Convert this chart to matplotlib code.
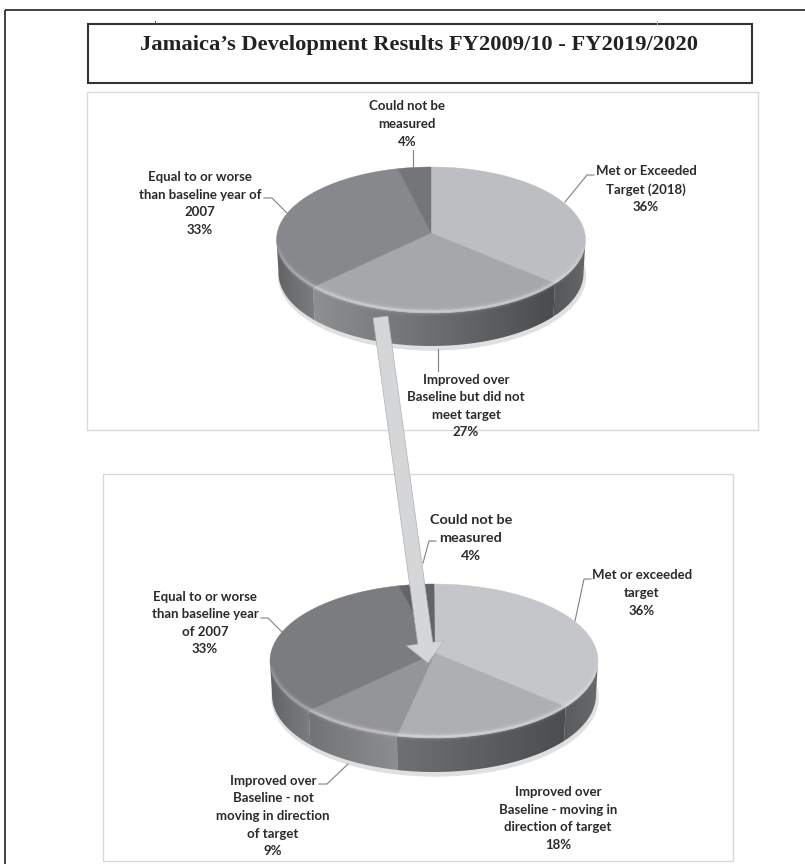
import numpy as np
import matplotlib
matplotlib.use('Agg')
import matplotlib.pyplot as plt
from matplotlib.patches import Polygon, Rectangle, Ellipse, FancyArrow
from matplotlib.colors import LinearSegmentedColormap
from matplotlib.collections import LineCollection

# 数据
top_values = [36, 27, 33, 4]
top_labels = ['Met or Exceeded\nTarget (2018)\n36%',
              'Improved over\nBaseline but did not\nmeet target\n27%',
              'Equal to or worse\nthan baseline year of\n2007\n33%',
              'Could not be\nmeasured\n4%']
top_colors = ['#bdbec1', '#a6a7aa', '#87888b', '#747578']
top_sides = [('#565759', '#656668'), ('#8e8f91', '#4b4c4e'), ('#626365', '#7d7e80'), ('#666666', '#666666')]

bottom_values = [36, 18, 9, 33, 4]
bottom_labels = ['Met or exceeded\ntarget\n36%',
                 'Improved over\nBaseline - moving in\ndirection of target\n18%',
                 'Improved over\nBaseline - not\nmoving in direction\nof target\n9%',
                 'Equal to or worse\nthan baseline year\nof 2007\n33%',
                 'Could not be\nmeasured\n4%']
bottom_colors = ['#c5c6c9', '#aeafb2', '#949598', '#7b7c7f', '#636467']
bottom_sides = [('#5a5b5d', '#68696b'), ('#6f7072', '#4c4d4f'), ('#727375', '#8c8d8f'), ('#626365', '#7c7d7f'), ('#666666', '#666666')]

fig = plt.figure(figsize=(8.05, 8.64), dpi=100)
ax = fig.add_axes([0, 0, 1, 1])
ax.axis('off')


def arc(cx, cy, rx, ry, t0, t1, n=80):
    t = np.radians(np.linspace(t0, t1, n))
    return np.column_stack([cx + rx * np.sin(t), cy - ry * np.cos(t)])


def gradient_fill(patch, c0, c1, x0, x1, y0, y1):
    cmap = LinearSegmentedColormap.from_list('g', [c0, c1])
    im = ax.imshow(np.linspace(0, 1, 64).reshape(1, -1), cmap=cmap, extent=(x0, x1, y1, y0),
                   aspect='auto', zorder=patch.get_zorder(), interpolation='bilinear')
    ax.add_patch(patch)
    im.set_clip_path(patch)


def rim_light(cx, cy, rx, ry, width, strength):
    # 边缘高光，前面最亮，两侧淡出
    pts = arc(cx, cy, rx, ry, 92, 268, 120)
    segs = np.stack([pts[:-1], pts[1:]], axis=1)
    t = np.linspace(0, np.pi, len(segs))
    cols = np.zeros((len(segs), 4))
    cols[:, :3] = 1
    cols[:, 3] = strength * np.sin(t) ** 0.6
    ax.add_collection(LineCollection(segs, colors=cols, linewidths=width, zorder=5))


def draw_pie(values, colors, sides, apex, cx, cy, rx, ry, depth):
    # 阴影
    ax.add_patch(Ellipse((cx + 1, cy + depth + 3), 2 * rx - 2, 2 * ry + 2, color='#dfe0e2', zorder=2))
    angles = np.concatenate([[0], np.cumsum(values)]) * 360 / sum(values)
    # 透视修正，让扇形边界落在椭圆上正确的位置
    angles = angles + np.interp(angles, [0, 130, 194, 227, 346, 360], [0, -3, -1.4, 3, 2, 0])
    # 侧面
    for i in range(len(values)):
        t0, t1 = max(angles[i], 90), min(angles[i + 1], 270)
        if t1 <= t0:
            continue
        upper = arc(cx, cy, rx, ry, t0, t1)
        lower = arc(cx, cy + depth, rx - 2, ry, t0, t1)
        pts = np.vstack([upper, lower[::-1]])
        side = Polygon(pts, closed=True, facecolor='none', edgecolor='none', zorder=3)
        c_left, c_right = sides[i]
        gradient_fill(side, c_left, c_right, pts[:, 0].min(), pts[:, 0].max(), pts[:, 1].min(), pts[:, 1].max())
    # 顶面
    for i in range(len(values)):
        pts = np.vstack([[apex], arc(cx, cy, rx, ry, angles[i], angles[i + 1])])
        ax.add_patch(Polygon(pts, closed=True, facecolor=colors[i], edgecolor=colors[i], lw=0.3, zorder=4))
    for lw, a in [(6, 0.05), (4, 0.08), (2.5, 0.14), (1.2, 0.25)]:
        rim_light(cx, cy - 0.5, rx - 1, ry - 1, lw, a)


# 外框
ax.add_patch(Rectangle((5, 10), 900, 900, fill=False, ec='#222222', lw=1.2, zorder=1))
ax.plot([155, 155], [21, 24], color='#444444', lw=0.7)
ax.plot([657, 657], [21, 24], color='#bbbbbb', lw=0.7)
ax.add_patch(Rectangle((88, 24), 664, 59, fill=False, ec='#333333', lw=1.5, zorder=1))
ax.add_patch(Rectangle((87, 92), 671, 338, fill=False, ec='#d9d9d9', lw=1.0, zorder=1))
ax.add_patch(Rectangle((103, 474), 630, 387, fill=False, ec='#d9d9d9', lw=1.0, zorder=1))
ax.text(419, 45, 'Jamaica\u2019s Development Results FY2009/10 - FY2019/2020', ha='center', va='center',
        family='Liberation Serif', weight='bold', fontsize=16.2, color='#222222')

draw_pie(top_values, top_colors, top_sides, (431, 233), 431, 240, 154.5, 73, 33)
draw_pie(bottom_values, bottom_colors, bottom_sides, (435, 653), 434, 661, 164, 77, 34)

# 箭头
ax.add_patch(FancyArrow(380.5, 317, 47.5, 346, width=15, head_width=38, head_length=20,
                        length_includes_head=True, facecolor='#d5d6d8', edgecolor='#b0b1b3', lw=0.5, zorder=6))

# 标签
label_style = dict(ha='center', va='center', family='Lato', weight='bold', color='#2b2b2b', zorder=7)
top_pos = [(646, 189), (466, 406), (200, 203.5), (407, 124)]
for lab, pos in zip(top_labels, top_pos):
    ax.text(pos[0], pos[1], lab, fontsize=9.5, linespacing=1.56, **label_style)
bottom_pos = [(642, 593), (558, 818.5), (273, 816), (205, 623), (471, 538)]
for i, (lab, pos) in enumerate(zip(bottom_labels, bottom_pos)):
    if i == 4:
        ax.text(pos[0], pos[1], lab, fontsize=10.4, linespacing=1.59, **label_style)
    else:
        ax.text(pos[0], pos[1], lab, fontsize=9.5, linespacing=1.56, **label_style)

# 引导线
leaders = [
    ([565, 587, 594], [202, 175, 175]), ([438, 438], [349, 371]), ([287, 272, 264], [213, 198, 198]), ([413, 413], [150, 167]),
    ([575, 584, 591], [621, 579, 579]), ([348, 327, 319], [764, 784, 784]), ([282, 268, 261], [632, 618, 618]), ([423, 429, 436], [563, 541, 541]),
]
for xs, ys in leaders:
    ax.plot(xs, ys, color='#808080', lw=0.8, zorder=6)

ax.set_xlim(0, 805)
ax.set_ylim(864, 0)
fig.savefig('out.png', dpi=100)
